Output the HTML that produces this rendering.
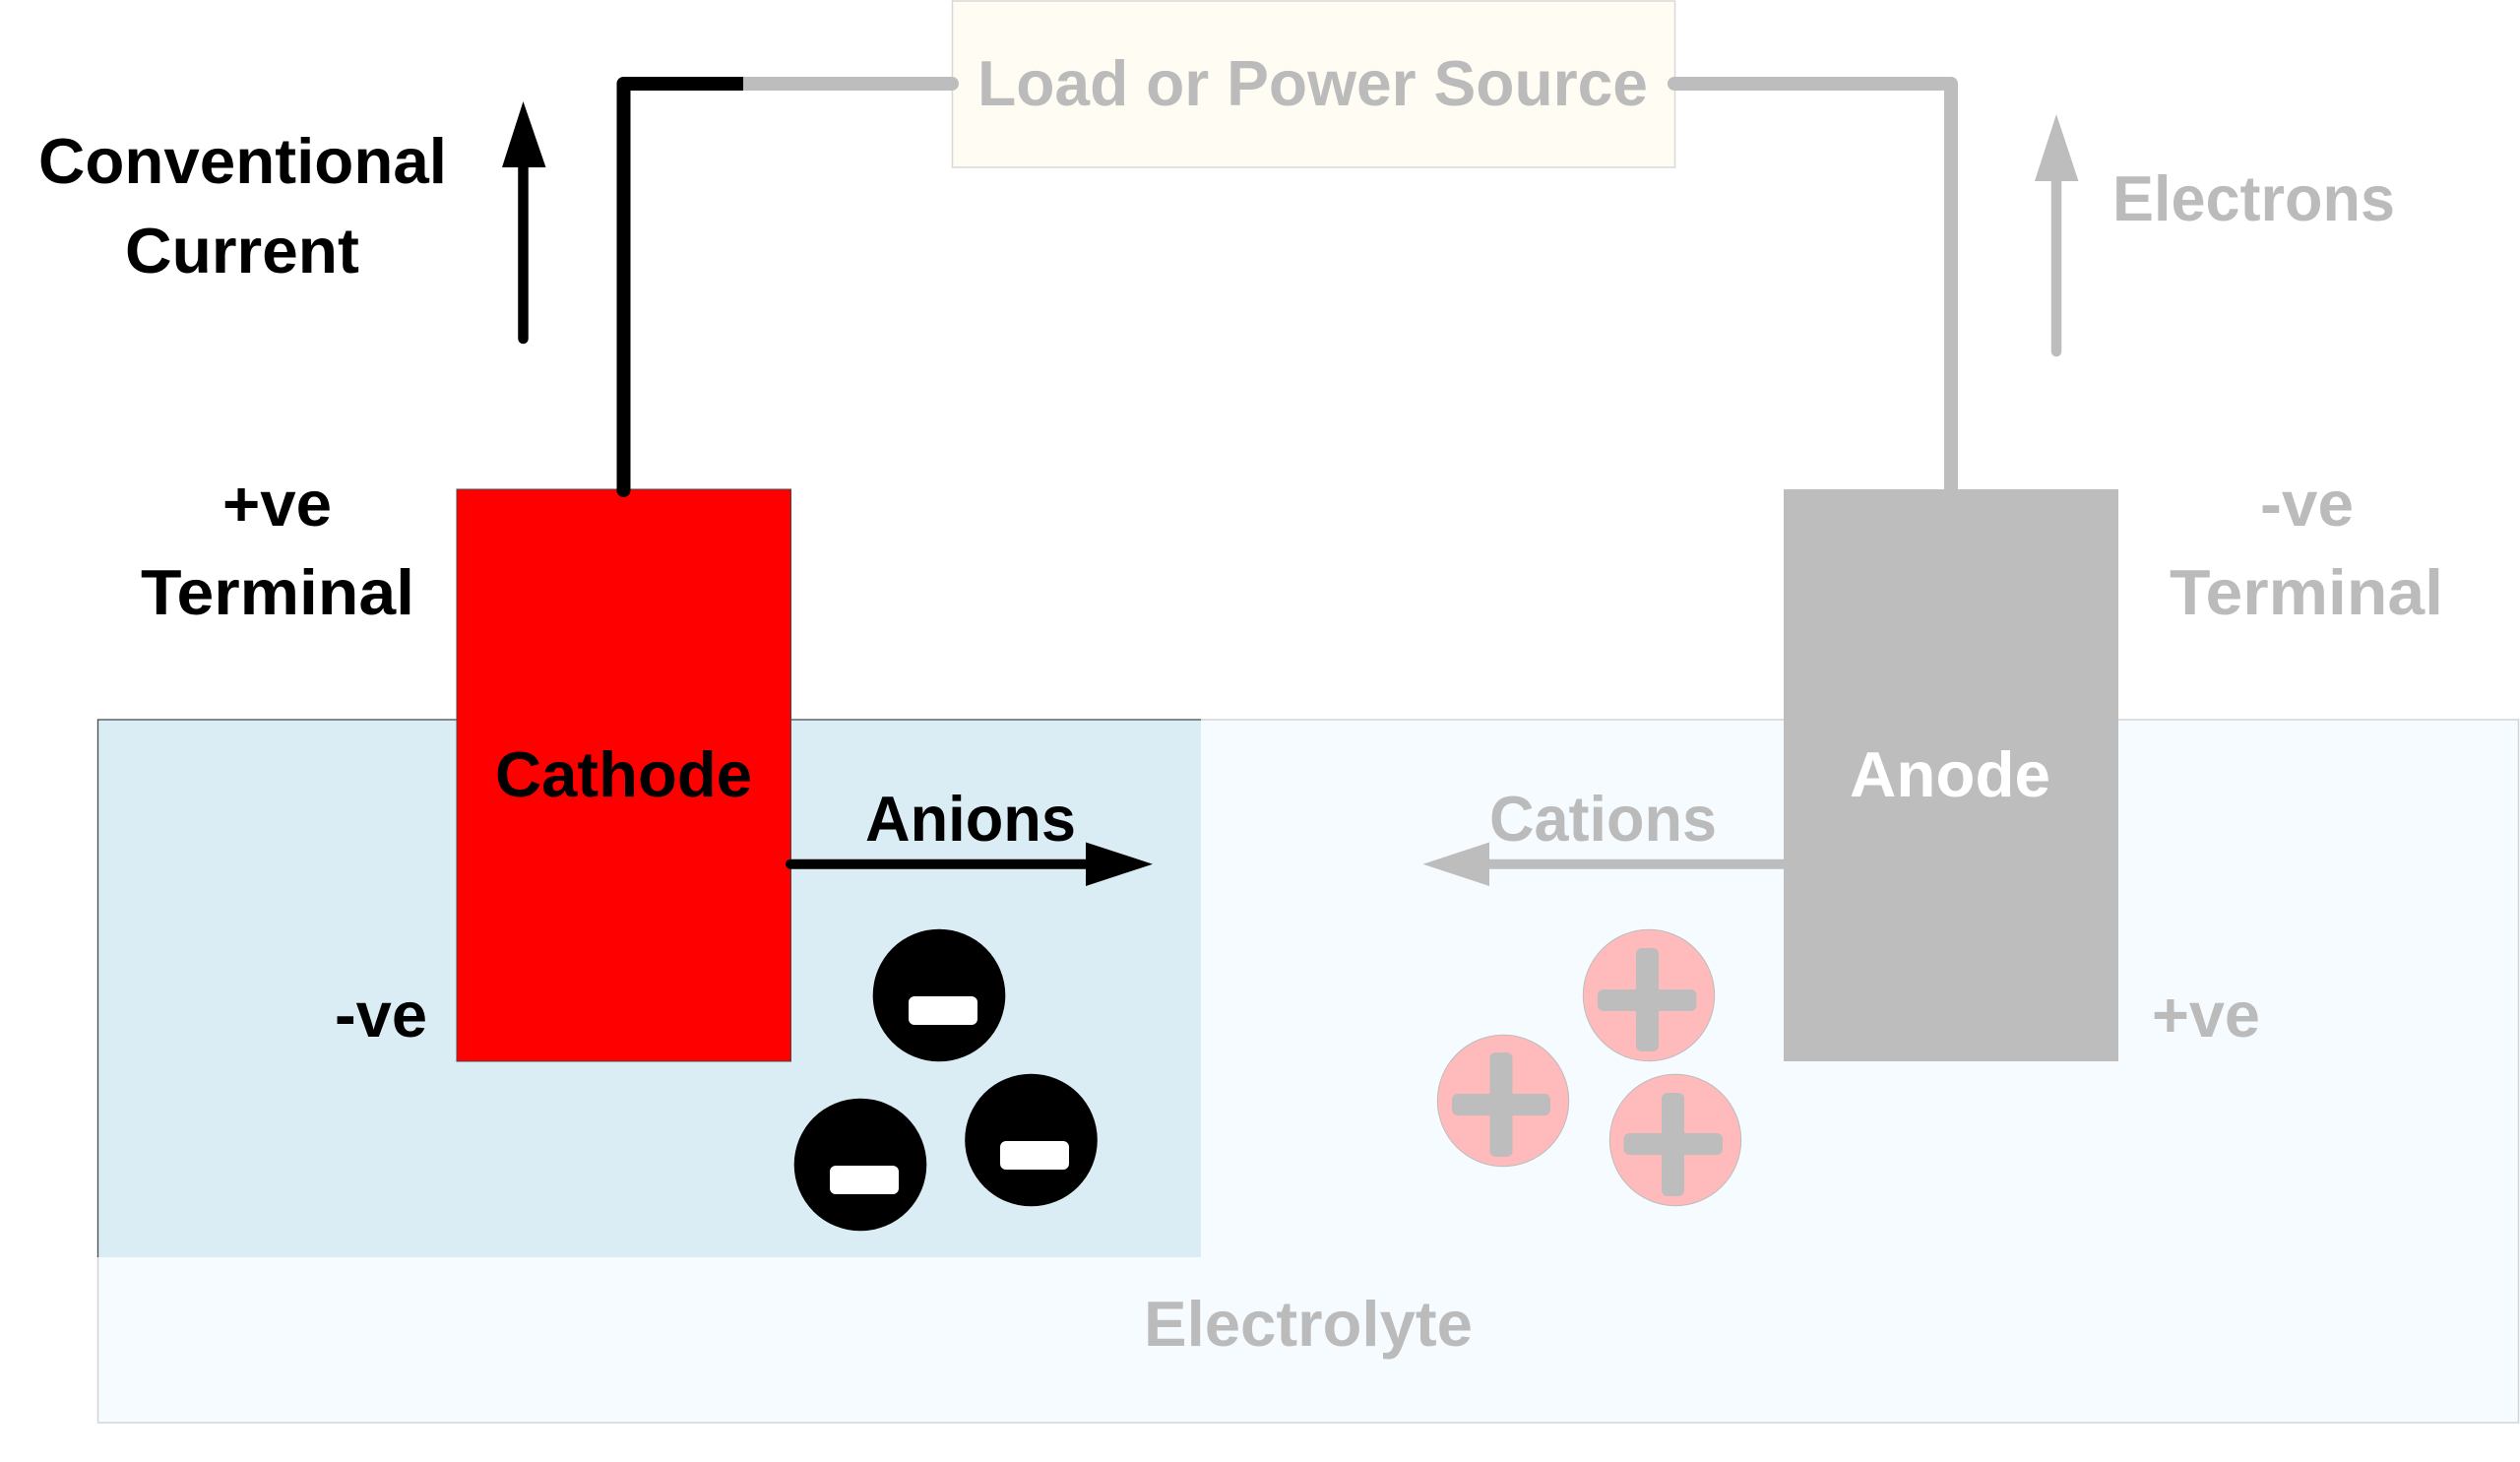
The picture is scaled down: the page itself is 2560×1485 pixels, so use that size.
<!DOCTYPE html>
<html>
<head>
<meta charset="utf-8">
<style>
html,body{margin:0;padding:0;background:#fff;}
svg{display:block;}
text{font-family:"Liberation Sans",sans-serif;font-weight:bold;font-size:65px;}
.k{fill:#000;}
.g{fill:#bbbbbb;}
.w{fill:#fff;}
</style>
</head>
<body>
<svg width="2560" height="1485" viewBox="0 0 2560 1485" xmlns="http://www.w3.org/2000/svg">
<rect width="2560" height="1485" fill="#fff"/>

<!-- Electrolyte -->
<rect x="99.5" y="731" width="2459" height="714" fill="#f5fbfe" stroke="#d2d4d5" stroke-width="1.5"/>
<rect x="99.5" y="731" width="1120.5" height="546" fill="#daedf4"/>
<path d="M99.5 1277V731H1220" fill="none" stroke="#4a4f52" stroke-width="1.3"/>

<!-- Load box -->
<rect x="967.5" y="1" width="734" height="169" fill="#fffdf3" stroke="#d8d8d6" stroke-width="1.5"/>

<!-- Wires -->
<line x1="740" y1="85" x2="967" y2="85" stroke="#bdbdbd" stroke-width="14" stroke-linecap="round"/>
<path d="M1701 85H1982V500" fill="none" stroke="#bdbdbd" stroke-width="14" stroke-linejoin="round" stroke-linecap="round"/>

<!-- Electrodes -->
<rect x="464" y="497" width="339.5" height="581" fill="#ff0000" stroke="#4a4a4a" stroke-width="1"/>
<rect x="1812" y="497" width="340" height="581" fill="#bdbdbd"/>

<path d="M755 85H633.5V498" fill="none" stroke="#000" stroke-width="14" stroke-linejoin="round"/>
<circle cx="633.5" cy="498" r="7" fill="#000"/>

<!-- Up arrows -->
<line x1="531.5" y1="165" x2="531.5" y2="344" stroke="#000" stroke-width="10.5" stroke-linecap="round"/>
<polygon points="531.5,103 554.5,170 510,170" fill="#000"/>
<line x1="2089" y1="180" x2="2089" y2="357" stroke="#bdbdbd" stroke-width="10.5" stroke-linecap="round"/>
<polygon points="2089,116 2111.5,184 2067,184" fill="#bdbdbd"/>

<!-- Anions arrow -->
<line x1="803" y1="877.7" x2="1105" y2="877.7" stroke="#000" stroke-width="10" stroke-linecap="round"/>
<polygon points="1171,877.7 1103,855.5 1103,900" fill="#000"/>
<!-- Cations arrow -->
<line x1="1510" y1="877.7" x2="1812" y2="877.7" stroke="#bdbdbd" stroke-width="10"/>
<polygon points="1445.5,877.7 1513,855.5 1513,900" fill="#bdbdbd"/>

<!-- Anion circles -->
<circle cx="954" cy="1011" r="67.3" fill="#000"/>
<rect x="923" y="1012" width="70" height="29" rx="6" fill="#fff"/>
<circle cx="874" cy="1183" r="67.3" fill="#000"/>
<rect x="843" y="1184" width="70" height="29" rx="6" fill="#fff"/>
<circle cx="1047.5" cy="1158" r="67.3" fill="#000"/>
<rect x="1016" y="1159" width="70" height="29" rx="6" fill="#fff"/>

<!-- Cation circles -->
<g stroke="#bdbdbd" stroke-width="1" fill="#ffbabb">
<circle cx="1675" cy="1011" r="66.7"/>
<circle cx="1527" cy="1118" r="66.7"/>
<circle cx="1702" cy="1158" r="66.7"/>
</g>
<g fill="#bdbdbd">
<rect x="1662" y="963" width="23" height="105" rx="6"/>
<rect x="1623" y="1005" width="100.5" height="22" rx="6"/>
<rect x="1513.5" y="1069" width="23" height="106" rx="6"/>
<rect x="1475" y="1111" width="100" height="22" rx="6"/>
<rect x="1688" y="1110" width="23" height="105" rx="6"/>
<rect x="1649.5" y="1151" width="100.5" height="22" rx="6"/>
</g>

<!-- Labels -->
<text class="k" x="39" y="186" textLength="415" lengthAdjust="spacingAndGlyphs">Conventional</text>
<text class="k" x="127" y="277" textLength="238" lengthAdjust="spacingAndGlyphs">Current</text>
<text class="k" x="226" y="534" textLength="111" lengthAdjust="spacingAndGlyphs">+ve</text>
<text class="k" x="143" y="624" textLength="278" lengthAdjust="spacingAndGlyphs">Terminal</text>
<text class="g" x="993" y="107" textLength="681" lengthAdjust="spacingAndGlyphs">Load or Power Source</text>
<text class="g" x="2146" y="224" textLength="287" lengthAdjust="spacingAndGlyphs">Electrons</text>
<text class="g" x="2296" y="534" textLength="95" lengthAdjust="spacingAndGlyphs">-ve</text>
<text class="g" x="2204" y="624" textLength="278" lengthAdjust="spacingAndGlyphs">Terminal</text>
<text class="k" x="503" y="809" textLength="261" lengthAdjust="spacingAndGlyphs">Cathode</text>
<text class="w" x="1879" y="809" textLength="204" lengthAdjust="spacingAndGlyphs">Anode</text>
<text class="k" x="879" y="854" textLength="214" lengthAdjust="spacingAndGlyphs">Anions</text>
<text class="g" x="1513" y="854" textLength="231" lengthAdjust="spacingAndGlyphs">Cations</text>
<text class="k" x="340" y="1053" textLength="94" lengthAdjust="spacingAndGlyphs">-ve</text>
<text class="g" x="2186" y="1053" textLength="110" lengthAdjust="spacingAndGlyphs">+ve</text>
<text class="g" x="1162" y="1367" textLength="334" lengthAdjust="spacingAndGlyphs">Electrolyte</text>
</svg>
</body>
</html>
